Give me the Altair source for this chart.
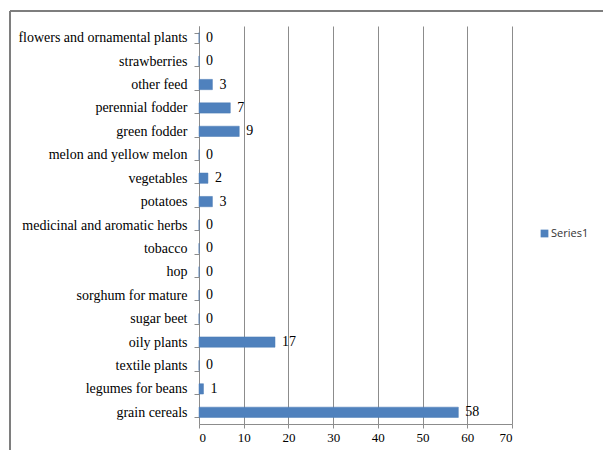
import altair as alt
import pandas as pd

# Crop areas, listed top to bottom as they appear on the chart
crops = [
    "flowers and ornamental plants", "strawberries", "other feed",
    "perennial fodder", "green fodder", "melon and yellow melon",
    "vegetables", "potatoes", "medicinal and aromatic herbs", "tobacco",
    "hop", "sorghum for mature", "sugar beet", "oily plants",
    "textile plants", "legumes for beans", "grain cereals",
]
values = [0, 0, 3, 7, 9, 0, 2, 3, 0, 0, 0, 0, 0, 17, 0, 1, 58]
series_name = "Series1"
x_ticks = [0, 10, 20, 30, 40, 50, 60, 70]

df = pd.DataFrame({"crop": crops, "value": values, "series": series_name})

SERIF = "'Liberation Serif', 'DejaVu Serif', serif"
GRID = "#8c8c8c"

y_enc = alt.Y(
    "crop:N",
    sort=crops,
    title=None,
    scale=alt.Scale(paddingInner=0.56, paddingOuter=0.28),
    axis=alt.Axis(
        tickBand="extent",
        labelFont=SERIF,
        labelFontSize=14,
        labelColor="#000000",
        labelPadding=7,
        tickSize=5,
        tickColor=GRID,
        domainColor=GRID,
        grid=False,
    ),
)
x_enc = alt.X(
    "value:Q",
    title=None,
    scale=alt.Scale(domain=[0, 70], nice=False),
    axis=alt.Axis(
        values=x_ticks,
        labelFont=SERIF,
        labelFontSize=13,
        labelColor="#000000",
        labelPadding=3,
        tickSize=4,
        tickColor=GRID,
        domainColor=GRID,
        gridColor=GRID,
        gridOpacity=1,
    ),
)

bars = alt.Chart(df).mark_bar(stroke="#4a7ab5", strokeWidth=0.5).encode(
    x=x_enc,
    y=y_enc,
    color=alt.Color(
        "series:N",
        scale=alt.Scale(domain=[series_name], range=["#4F81BD"]),
        legend=alt.Legend(
            title=None,
            orient="none",
            legendX=340,
            legendY=202,
            symbolType="square",
            symbolSize=60,
            symbolStrokeWidth=0,
            labelFont="Open Sans",
            labelFontSize=11,
            labelColor="#333333",
            labelOffset=1,
        ),
    ),
)

labels = alt.Chart(df).mark_text(
    align="left", baseline="middle", dx=7, font=SERIF, fontSize=14, color="#000000"
).encode(
    x=alt.X("value:Q"),
    y=alt.Y("crop:N", sort=crops),
    text=alt.Text("value:Q"),
)

# Outer frame lines of the chart area (top and left edges)
frame_top = alt.Chart(df).mark_rule(color="#7f7f7f", strokeWidth=1).encode(
    x=alt.value(-189), x2=alt.value(420), y=alt.value(-15)
)
frame_left = alt.Chart(df).mark_rule(color="#7f7f7f", strokeWidth=1).encode(
    x=alt.value(-189), y=alt.value(-15), y2=alt.value(440)
)

chart = (
    alt.layer(bars, labels, frame_top, frame_left)
    .properties(
        width=313,
        height=398,
        autosize=alt.AutoSizeParams(type="none"),
        padding={"left": 199, "top": 26, "right": 91, "bottom": 26},
        background="#ffffff",
    )
    .configure_view(stroke=None)
)

chart.save("out.html", embed_options={"renderer": "svg", "actions": False})
